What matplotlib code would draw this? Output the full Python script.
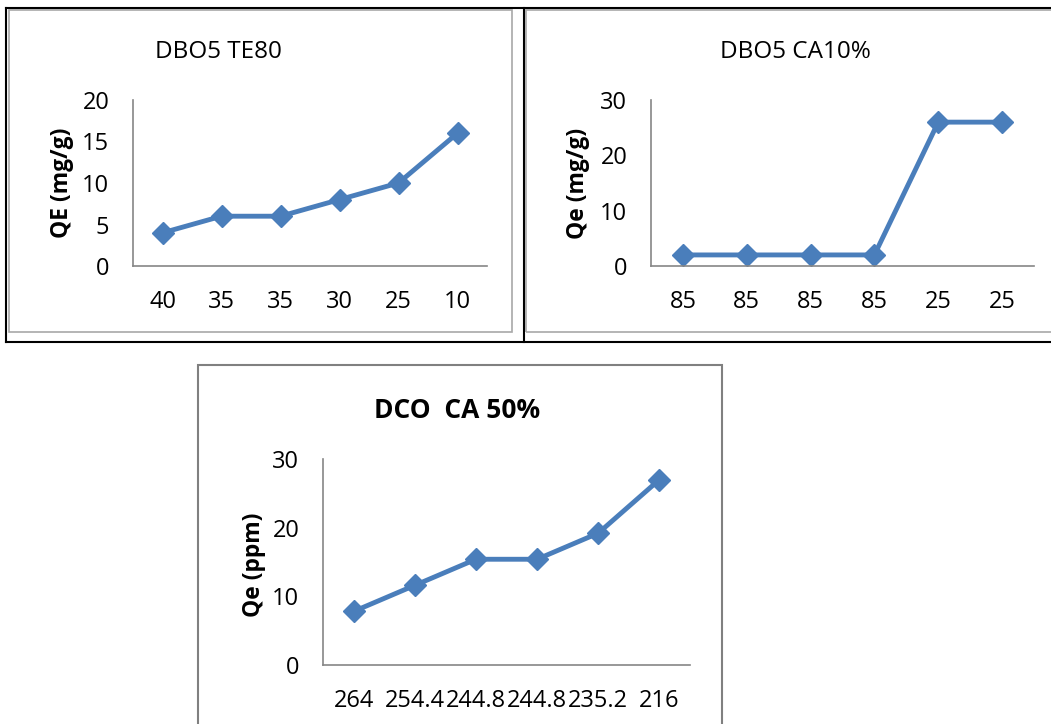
import matplotlib
matplotlib.use("Agg")
import matplotlib.pyplot as plt
from matplotlib.patches import Rectangle
from matplotlib.lines import Line2D

plt.rcParams['font.family'] = ['Open Sans', 'DejaVu Sans']

W, H = 1051, 724

# data
te80_labels = ["40", "35", "35", "30", "25", "10"]
te80_qe = [4, 6, 6, 8, 10, 16]

ca10_labels = ["85", "85", "85", "85", "25", "25"]
ca10_qe = [2, 2, 2, 2, 26, 26]

ca50_labels = ["264", "254.4", "244.8", "244.8", "235.2", "216"]
ca50_qe = [7.8, 11.6, 15.4, 15.4, 19.2, 27.0]

BLUE = "#4A7EBB"
GRID = "#868686"


def add_ax(fig, x0, y0, x1, y1):
    return fig.add_axes([x0 / W, 1 - y1 / H, (x1 - x0) / W, (y1 - y0) / H])


def frame(fig, x0, y0, x1, y1, color, lw):
    r = Rectangle((x0 / W, 1 - y1 / H), (x1 - x0) / W, (y1 - y0) / H,
                  transform=fig.transFigure, fill=False, edgecolor=color, linewidth=lw)
    fig.add_artist(r)


def hline(fig, x0, x1, y, color, lw):
    fig.add_artist(Line2D([x0 / W, x1 / W], [1 - y / H, 1 - y / H],
                          transform=fig.transFigure, color=color, linewidth=lw))


def vline(fig, x, y0, y1, color, lw):
    fig.add_artist(Line2D([x / W, x / W], [1 - y0 / H, 1 - y1 / H],
                          transform=fig.transFigure, color=color, linewidth=lw))


def draw_chart(ax, labels, vals, ymax, step):
    xs = list(range(len(vals)))
    ax.plot(xs, vals, color=BLUE, linewidth=3.5, marker="D", markersize=11,
            markerfacecolor=BLUE, markeredgecolor=BLUE)
    ax.set_xlim(-0.5, len(vals) - 0.5)
    ax.set_ylim(0, ymax)
    ax.set_yticks(range(0, ymax + 1, step))
    ax.set_xticks(xs)
    ax.set_xticklabels(labels)
    for s in ["top", "right"]:
        ax.spines[s].set_visible(False)
    for s in ["left", "bottom"]:
        ax.spines[s].set_color(GRID)
        ax.spines[s].set_linewidth(1.2)
    ax.tick_params(length=0, labelsize=17, colors="black")
    ax.tick_params(axis="y", pad=17)
    ax.tick_params(axis="x", pad=17)
    ax.patch.set_alpha(0)


fig = plt.figure(figsize=(W / 100, H / 100), dpi=100)

# outer frames
hline(fig, 6, W, 8, "black", 1.5)
hline(fig, 6, W, 342, "black", 1.5)
vline(fig, 6, 8, 342, "black", 1.5)
vline(fig, 524, 8, 342, "black", 1.5)
frame(fig, 9, 10, 512, 332, "#A8A8A8", 1.2)
frame(fig, 526, 10, 1060, 332, "#A8A8A8", 1.2)
frame(fig, 198, 365, 722, 740, "#808080", 1.5)

# chart 1
ax1 = add_ax(fig, 133, 100, 487, 266)
draw_chart(ax1, te80_labels, te80_qe, 20, 5)
fig.text(218 / W, 1 - 52 / H, "DBO5 TE80", ha="center", va="center", fontsize=17.5)
fig.text(62 / W, 1 - 183 / H, "QE (mg/g)", ha="center", va="center",
         rotation=90, fontsize=16.5, fontweight="bold")

# chart 2
ax2 = add_ax(fig, 651, 100, 1034, 266)
draw_chart(ax2, ca10_labels, ca10_qe, 30, 10)
fig.text(795 / W, 1 - 52 / H, "DBO5 CA10%", ha="center", va="center", fontsize=17.5)
fig.text(578 / W, 1 - 183 / H, "Qe (mg/g)", ha="center", va="center",
         rotation=90, fontsize=16.5, fontweight="bold")

# chart 3
ax3 = add_ax(fig, 323, 459, 690, 665)
draw_chart(ax3, ca50_labels, ca50_qe, 30, 10)
fig.text(457 / W, 1 - 410 / H, "DCO  CA 50%", ha="center", va="center",
         fontsize=19, fontweight="bold")
fig.text(254 / W, 1 - 565 / H, "Qe (ppm)", ha="center", va="center",
         rotation=90, fontsize=16.5, fontweight="bold")

fig.savefig("out.png", dpi=100)
